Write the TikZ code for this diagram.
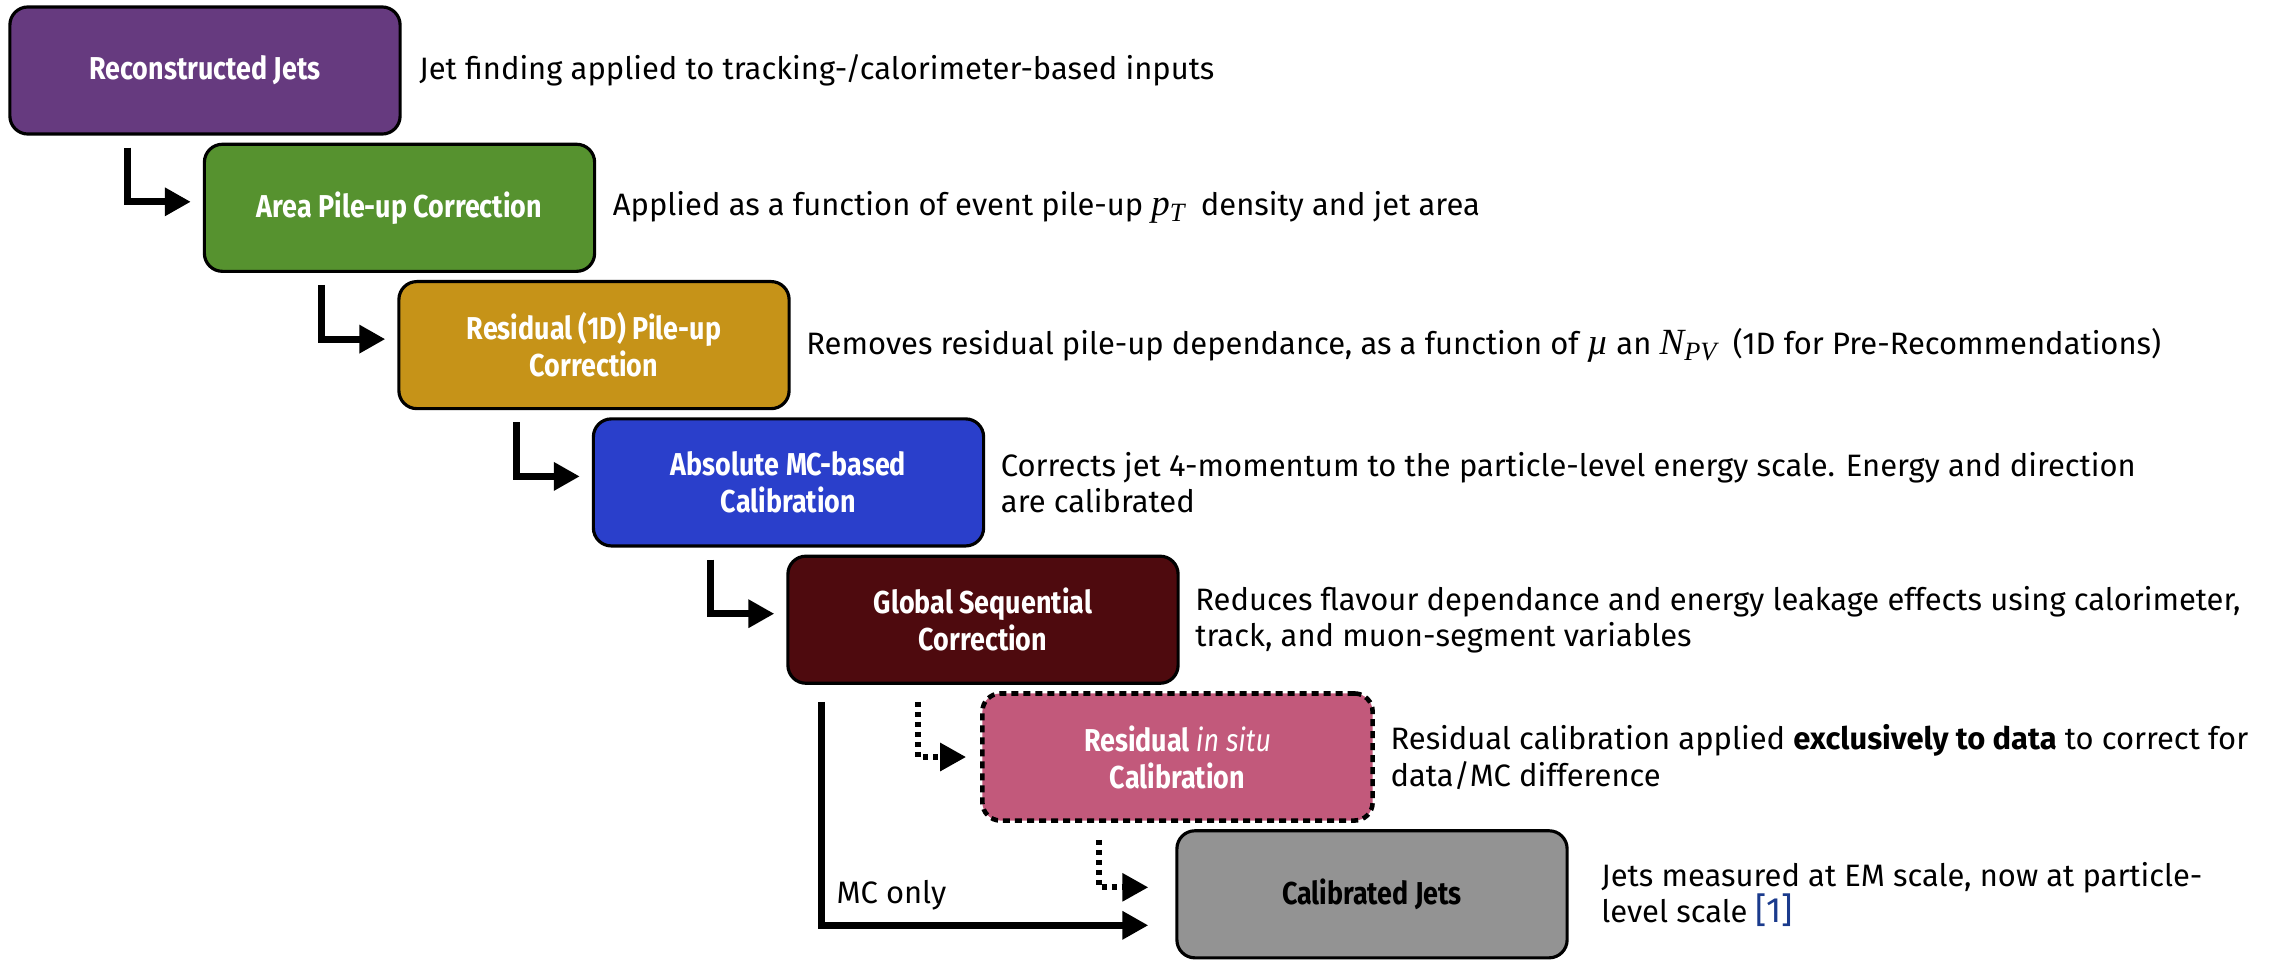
\documentclass[tikz,border=0pt]{standalone}
\usepackage{fontspec}
\setmainfont{Fira Sans}
\newfontfamily\boxfont[FakeStretch=0.85]{Fira Sans}
\newfontfamily\tnr{Liberation Serif}
\usetikzlibrary{arrows.meta,calc}
\definecolor{cPurple}{HTML}{663A7F}
\definecolor{cGreen}{HTML}{56922F}
\definecolor{cGold}{HTML}{C69318}
\definecolor{cBlue}{HTML}{2A3FCB}
\definecolor{cMaroon}{HTML}{4E0A0E}
\definecolor{cPink}{HTML}{C2597B}
\definecolor{cGray}{HTML}{939393}
\definecolor{refblue}{HTML}{1A3A8C}
\newcommand{\mvar}[2]{{\tnr\itshape\fontsize{10.5}{10}\selectfont #1\raisebox{-0.35ex}{\fontsize{7.5}{8}\selectfont #2}}}
\begin{document}
\begin{tikzpicture}[x=0.01cm,y=-0.01cm,
  box/.style={draw=black,line width=0.9pt,rounded corners=0.18cm,minimum width=3.9cm,minimum height=1.27cm,align=center,text=white,font=\boxfont\bfseries\fontsize{9}{10.5}\selectfont,inner sep=0pt},
  desc/.style={anchor=west,align=left,font=\fontsize{8.8}{10.3}\selectfont,inner sep=0pt},
  arr/.style={line width=0.07cm,-{Triangle[length=0.26cm,width=0.27cm]}},
  darr/.style={line width=0.06cm,dash pattern=on 0.05cm off 0.05cm,-{Triangle[length=0.26cm,width=0.27cm]}}]
\useasboundingbox (0,0) rectangle (2273,960);

\node[box,fill=cPurple] (b1) at (205,70.5) {Reconstructed Jets};
\node[box,fill=cGreen] (b2) at (399.5,207.8) {Area Pile-up Correction};
\node[box,fill=cGold] (b3) at (594,345.1) {Residual (1D) Pile-up\\Correction};
\node[box,fill=cBlue] (b4) at (788.5,482.4) {Absolute MC-based\\Calibration};
\node[box,fill=cMaroon] (b5) at (983,619.7) {Global Sequential\\Correction};
\node[box,fill=cPink,dash pattern=on 0.07cm off 0.05cm,line width=1.3pt] (b6) at (1177.5,757) {Residual {\mdseries\itshape in situ}\\Calibration};
\node[box,fill=cGray,text=black] (b7) at (1372,894.3) {Calibrated Jets};

\node[desc] (t1) at ($(b1.east)+(17,0)$) {Jet finding applied to tracking-/calorimeter-based inputs};
\node[desc] (t2) at ($(b2.east)+(16,0)$) {Applied as a function of event pile-up \mvar{p}{T}\ \ density and jet area};
\node[desc] (t3) at ($(b3.east)+(15,0)$) {Removes residual pile-up dependance, as a function of \mvar{\textmu}{} an \mvar{N}{PV}\ \ (1D for Pre-Recommendations)};
\node[desc] (t4) at ($(b4.east)+(15,0)$) {Corrects jet 4-momentum to the particle-level energy scale. Energy and direction\\are calibrated};
\node[desc] (t5) at ($(b5.east)+(15,0)$) {Reduces flavour dependance and energy leakage effects using calorimeter,\\track, and muon-segment variables};
\node[desc] (t6) at ($(b6.east)+(15,0)$) {Residual calibration applied \textbf{exclusively to data} to correct for\\data/MC difference};
\node[desc] (t7) at ($(b7.east)+(32,0)$) {Jets measured at EM scale, now at particle-\\level scale {\color{refblue}\fontsize{10}{10}\selectfont[1]}};

\draw[arr] ($(b1.south west)+(119,12)$) |- ($(b2.west)+(-12,-6)$);
\draw[arr] ($(b2.south west)+(119,12)$) |- ($(b3.west)+(-12,-6)$);
\draw[arr] ($(b3.south west)+(119,12)$) |- ($(b4.west)+(-12,-6)$);
\draw[arr] ($(b4.south west)+(119,12)$) |- ($(b5.west)+(-12,-6)$);
\draw[darr] ($(b5.south west)+(132,17)$) |- ($(b6.west)+(-14,0)$);
\draw[darr] ($(b6.south west)+(119,17)$) |- ($(b7.west)+(-27,-7)$);
\draw[arr] ($(b5.south west)+(35,17)$) |- ($(b7.west)+(-27,31)$);
\node[anchor=west,font=\fontsize{8.8}{10}\selectfont,inner sep=0pt] (mc) at (836,895) {MC only};
\end{tikzpicture}
\end{document}
